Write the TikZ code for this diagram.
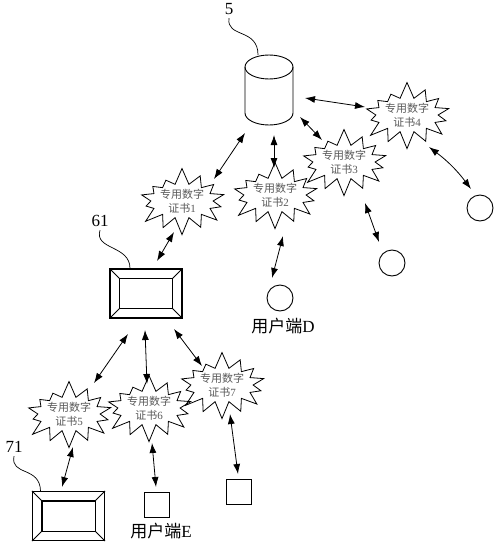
\documentclass[tikz,border=0pt]{standalone}
\usepackage{fontspec}
\setmainfont{Liberation Serif}
\newfontfamily\cjk{Noto Sans CJK SC}
\usepackage{tikz}
\usetikzlibrary{arrows.meta,calc,shapes.symbols}
\def\bevelbox#1{\draw[line width=1.1pt] ($(#1.north west)+(10,10)$) rectangle ($(#1.south east)+(-10,-10)$);
	\draw[line width=0.9pt] (#1.north west) -- ++(10,10) (#1.north east) -- ++(-10,10)
	(#1.south west) -- ++(10,-10) (#1.south east) -- ++(-10,-10);}
\tikzset{
	cert/.style={starburst, starburst points=14, starburst point height=17pt, random starburst=7,
		draw, line width=0.8pt, inner sep=0pt, minimum width=84pt, minimum height=60pt,
		align=center, text=black!65, font=\fontsize{11}{14}\selectfont},
	link/.style={line width=0.8pt, {Latex[length=10pt,width=7pt]}-{Latex[length=10pt,width=7pt]}},
	panel/.style={draw, line width=1.1pt, minimum width=72pt, minimum height=49pt, inner sep=0pt},
	userdot/.style={draw, circle, line width=0.9pt, minimum size=26pt, inner sep=0pt},
	sqbox/.style={draw, line width=0.9pt, minimum size=25pt, inner sep=0pt},
	num/.style={font=\fontsize{17}{17}\selectfont}
}

\begin{document}
\begin{tikzpicture}[x=1pt,y=-1pt]
		%%%%% START %%%%%
		\useasboundingbox (0,0) rectangle (495,543);
		
		% database 5
		\node[minimum width=48pt, minimum height=70pt, inner sep=0pt] (db) at (269,90) {};
		\draw[line width=0.9pt] ($(db.center)+(0,-23)$) ellipse (24 and 12);
		\draw[line width=0.9pt] ($(db.center)+(-24,-23)$) -- ($(db.center)+(-24,23)$) arc (180:0:24 and 12) -- ($(db.center)+(24,-23)$);
		\node[num] (lbl5) at (229,9) {5};
		\draw[line width=0.7pt] (lbl5.south) .. controls (226,38) and (258,28) .. ([xshift=-11pt]db.north);
		
		% certificates
		\node[cert] (cert1) at (182,201) {{\cjk 专用数字}\\{\cjk 证书}1};
		\node[cert] (cert2) at (275,195) {{\cjk 专用数字}\\{\cjk 证书}2};
		\node[cert] (cert3) at (344,162) {{\cjk 专用数字}\\{\cjk 证书}3};
		\node[cert] (cert4) at (407,115) {{\cjk 专用数字}\\{\cjk 证书}4};
		\node[cert] (cert5) at (69,414) {{\cjk 专用数字}\\{\cjk 证书}5};
		\node[cert] (cert6) at (149,408) {{\cjk 专用数字}\\{\cjk 证书}6};
		\node[cert] (cert7) at (222,385) {{\cjk 专用数字}\\{\cjk 证书}7};
		
		% terminals 61 and 71
		\node[panel] (box61) at (146,293.5) {};
		\bevelbox{box61}
		\node[num] (lbl61) at (100,221) {61};
		\draw[line width=0.7pt] (lbl61.south) .. controls (94,250) and (130,245) .. ([xshift=-16pt]box61.north);
		
		\node[panel] (box71) at (68.5,516) {};
		\bevelbox{box71}
		\node[num] (lbl71) at (14,447) {71};
		\draw[line width=0.7pt] (lbl71.south) .. controls (10,476) and (40,466) .. ([xshift=-28pt]box71.north);
		
		% user ends
		\node[userdot] (userD) at (280,298) {};
		\node[userdot] (userM) at (392,263) {};
		\node[userdot] (userR) at (480,208) {};
		\node[sqbox] (userE) at (157,505) {};
		\node[sqbox] (user7) at (239,492) {};
		\node[num] (labD) at (283,326) {{\cjk 用户端}D};
		\node[num] (labE) at (161,531) {{\cjk 用户端}E};
		
		% links
		\draw[link] ([shift={(32,-22)}]cert1.center) -- ([shift={(-24,43)}]db.center);
		\draw[link] ([shift={(-1,-27)}]cert2.center) -- ([shift={(5,45)}]db.center);
		\draw[link] ([shift={(-22,-22)}]cert3.center) -- ([shift={(31,27)}]db.center);
		\draw[link] ([shift={(-42,-8)}]cert4.center) -- ([shift={(36,8)}]db.center);
		\draw[link] ([shift={(22,32)}]cert4.center) to[bend left=8] ([shift={(-9,-19)}]userR.center);
		\draw[link] ([shift={(21,41)}]cert3.center) -- ([shift={(-13,-21)}]userM.center);
		\draw[link] ([shift={(8,41)}]cert2.center) -- ([shift={(-8,-20)}]userD.center);
		\draw[link] ([shift={(-8,31)}]cert1.center) -- ([shift={(11,-32.5)}]box61.center);
		\draw[link] ([shift={(-18,40.5)}]box61.center) -- ([shift={(25,-31)}]cert5.center);
		\draw[link] ([shift={(-1,36.5)}]box61.center) -- ([shift={(-2,-24)}]cert6.center);
		\draw[link] ([shift={(28,35.5)}]box61.center) -- ([shift={(-20,-19)}]cert7.center);
		\draw[link] ([shift={(4,33)}]cert5.center) -- ([shift={(-6.5,-29)}]box71.center);
		\draw[link] ([shift={(3,35)}]cert6.center) -- ([shift={(-1,-18)}]userE.center);
		\draw[link] ([shift={(8,29)}]cert7.center) -- ([shift={(-1,-18)}]user7.center);
		
		%%%%% END %%%%%
\end{tikzpicture}
\end{document}
